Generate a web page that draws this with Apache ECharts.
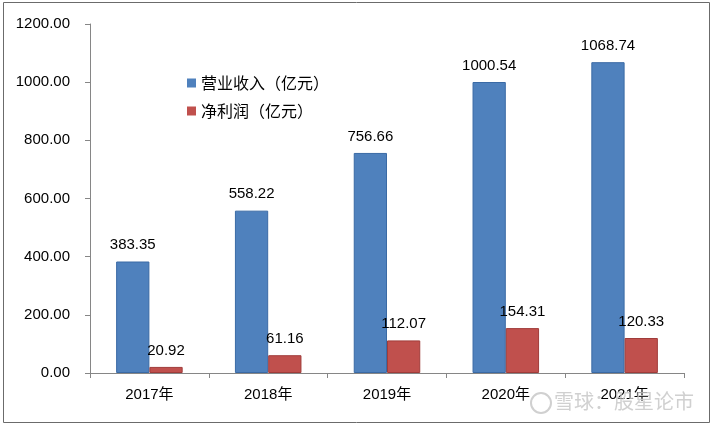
<!DOCTYPE html>
<html><head><meta charset="utf-8">
<script src="https://cdn.jsdelivr.net/npm/echarts@6/dist/echarts.min.js"></script>
<style>html,body{margin:0;padding:0;background:#fff}#c{width:716px;height:427px}</style>
</head><body><div id="c"></div>
<script>
const categories = ['2017年','2018年','2019年','2020年','2021年'];
const revenue = [383.35, 558.22, 756.66, 1000.54, 1068.74];
const profit = [20.92, 61.16, 112.07, 154.31, 120.33];
const seriesNames = ['营业收入（亿元）','净利润（亿元）'];
const yMin = 0, yMax = 1200, yStep = 200;

const chart = echarts.init(document.getElementById('c'), null, {renderer:'canvas'});
const txt = {fontFamily:'"Liberation Sans", Arial, sans-serif', fontSize:15, color:'#000'};
chart.setOption({
  animation:false,
  backgroundColor:'#fff',
  grid:{left:90, right:32, top:24, bottom:54, containLabel:false},
  legend:{
    orient:'vertical', left:182, top:70, itemGap:12, itemWidth:9, itemHeight:9, itemStyle:{borderWidth:0},
    icon:'rect',
    textStyle:{fontFamily:'"Noto Sans CJK SC", sans-serif', fontSize:16, color:'#000'},
    data:seriesNames
  },
  xAxis:{
    type:'category', data:categories,
    axisLine:{lineStyle:{color:'#868686', width:1}},
    axisTick:{show:true, length:5, lineStyle:{color:'#868686'}},
    axisLabel:{...txt, fontFamily:'"Liberation Sans","Noto Sans CJK SC", sans-serif', margin:14}
  },
  yAxis:{
    type:'value', min:yMin, max:yMax, interval:yStep,
    axisLine:{show:true, lineStyle:{color:'#868686', width:1}},
    axisTick:{show:true, length:5, lineStyle:{color:'#868686'}},
    splitLine:{show:false},
    axisLabel:{...txt, margin:20, formatter:v=>v.toFixed(2)}
  },
  series:[
    {name:seriesNames[0], type:'bar', data:revenue, barGap:'0%', barCategoryGap:'44%',
     itemStyle:{color:'#4F81BD', borderColor:'#3A6AA5', borderWidth:1},
     label:{show:true, position:'top', distance:9, ...txt, formatter:p=>p.value.toFixed(2)}},
    {name:seriesNames[1], type:'bar', data:profit,
     itemStyle:{color:'#C0504D', borderColor:'#A03C3A', borderWidth:1},
     label:{show:true, position:'top', distance:9, ...txt, formatter:p=>p.value.toFixed(2)}}
  ],
  graphic:[
    {type:'rect', shape:{x:3.5, y:2.5, width:706, height:420}, style:{fill:'none', stroke:'#6b6b6b', lineWidth:1}, z:100},
    {type:'circle', shape:{cx:541, cy:403, r:10}, style:{fill:'none', stroke:'#d0d0d0', lineWidth:2}, z:100},
    {type:'text', left:554, top:391, style:{text:'雪球：股星论市', font:'20px "Noto Sans CJK SC", sans-serif', fill:'rgba(200,200,200,0.85)'}, z:100}
  ]
});
</script></body></html>
